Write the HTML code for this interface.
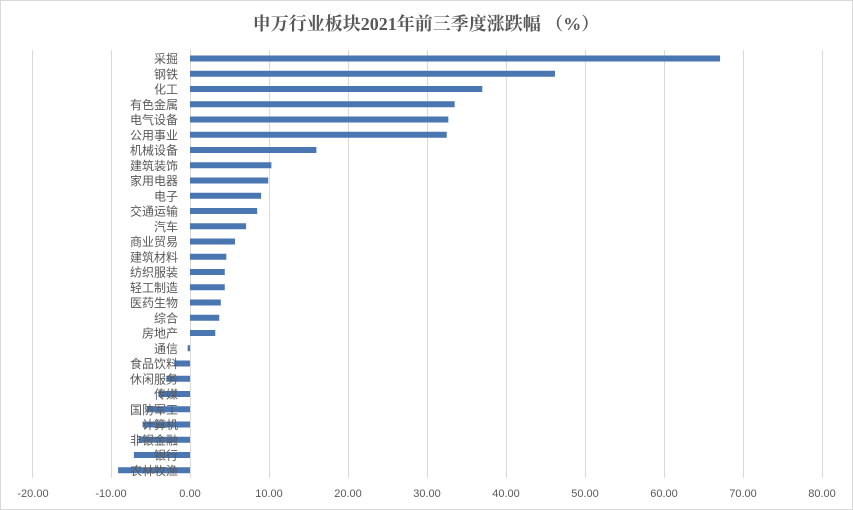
<!DOCTYPE html>
<html><head><meta charset="utf-8"><style>
html,body{margin:0;padding:0;background:#fff}
svg{display:block}
text{font-family:"Liberation Sans","Noto Sans CJK SC",sans-serif}
</style></head><body>
<svg width="853" height="510" viewBox="0 0 853 510" xmlns="http://www.w3.org/2000/svg">
<rect x="0.5" y="0.5" width="852" height="509" fill="#fff" stroke="#d9d9d9"/>
<text x="426" y="30" text-anchor="middle" font-size="18" font-weight="bold" fill="#595959" style="font-family:'Liberation Serif','Noto Serif CJK SC',serif">申万行业板块2021年前三季度涨跌幅 （%）</text>
<g stroke="#d9d9d9" stroke-width="1">
<line x1="32.5" y1="50" x2="32.5" y2="478"/>
<line x1="111.5" y1="50" x2="111.5" y2="478"/>
<line x1="190.5" y1="50" x2="190.5" y2="478"/>
<line x1="269.5" y1="50" x2="269.5" y2="478"/>
<line x1="348.5" y1="50" x2="348.5" y2="478"/>
<line x1="427.5" y1="50" x2="427.5" y2="478"/>
<line x1="506.5" y1="50" x2="506.5" y2="478"/>
<line x1="585.5" y1="50" x2="585.5" y2="478"/>
<line x1="664.5" y1="50" x2="664.5" y2="478"/>
<line x1="743.5" y1="50" x2="743.5" y2="478"/>
<line x1="822.5" y1="50" x2="822.5" y2="478"/>
</g>
<g font-size="11" fill="#595959" text-anchor="middle">
<text x="33" y="497">-20.00</text><text x="111" y="497">-10.00</text><text x="190" y="497">0.00</text><text x="269" y="497">10.00</text><text x="348" y="497">20.00</text><text x="427" y="497">30.00</text><text x="506" y="497">40.00</text><text x="585" y="497">50.00</text><text x="664" y="497">60.00</text><text x="743" y="497">70.00</text><text x="822" y="497">80.00</text>
</g>
<g id="bars" fill="#4a76b2"></g>
<g id="labels" font-size="12" fill="#595959" text-anchor="end"></g>
<script>
var d=[["采掘",67.1],["钢铁",46.2],["化工",37],["有色金属",33.5],["电气设备",32.7],["公用事业",32.5],["机械设备",16],["建筑装饰",10.3],["家用电器",9.9],["电子",9],["交通运输",8.5],["汽车",7.1],["商业贸易",5.7],["建筑材料",4.6],["纺织服装",4.4],["轻工制造",4.4],["医药生物",3.9],["综合",3.7],["房地产",3.2],["通信",-0.3],["食品饮料",-2],["休闲服务",-3],["传媒",-4],["国防军工",-5.5],["计算机",-6],["非银金融",-6.5],["银行",-7.1],["农林牧渔",-9.1]];
var ns="http://www.w3.org/2000/svg",b=document.getElementById("bars"),l=document.getElementById("labels");
d.forEach(function(r,i){var y=58.5+i*15.25,x0=190,x1=190+r[1]*7.9;
var e=document.createElementNS(ns,"rect");e.setAttribute("x",Math.min(x0,x1));e.setAttribute("y",y-3);e.setAttribute("width",Math.abs(x1-x0));e.setAttribute("height",6);b.appendChild(e);
var t=document.createElementNS(ns,"text");t.setAttribute("x",178);t.setAttribute("y",y+4.5);t.textContent=r[0];l.appendChild(t);});
</script>
</svg>
</body></html>
